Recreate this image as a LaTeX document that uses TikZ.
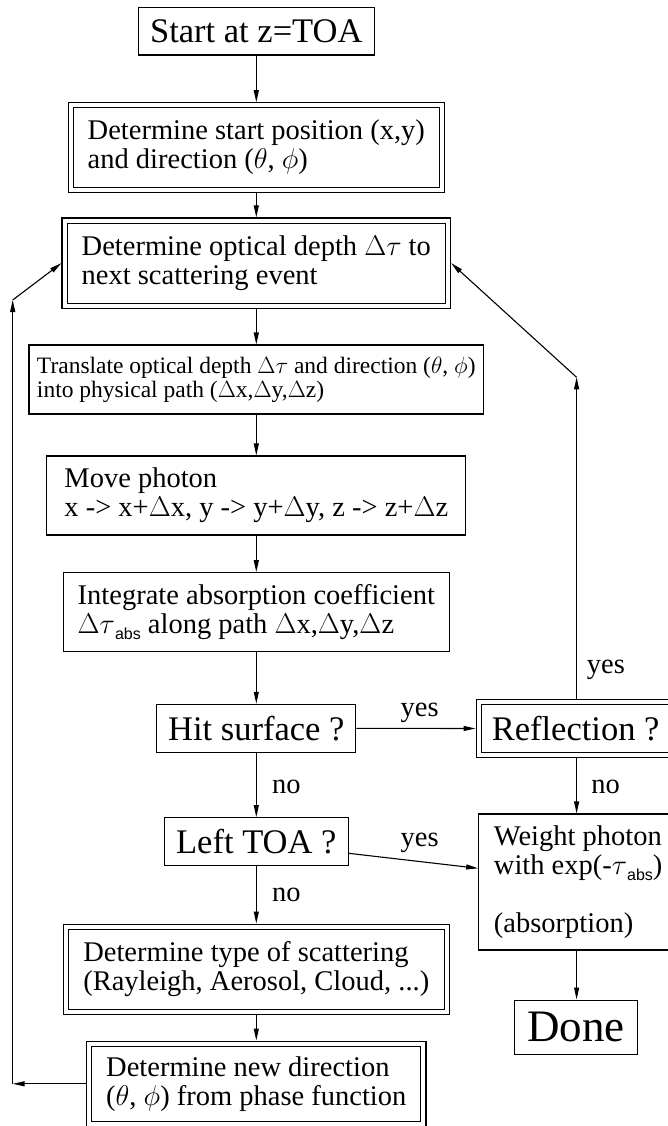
\RequirePackage{fix-cm}
\documentclass[tikz,border=0pt]{standalone}
\usepackage{fontspec}
\setmainfont{Liberation Serif}
\setsansfont{Liberation Sans}
\usetikzlibrary{arrows.meta,calc}

% type sizes used in the chart
\newcommand\fssmall{\fontsize{23.5}{24}\selectfont}
\newcommand\fsmid{\fontsize{28.5}{29}\selectfont}
\newcommand\fsbig{\fontsize{34.5}{36}\selectfont}
\newcommand\fshuge{\fontsize{45}{48}\selectfont}
% sans subscript "abs" of the absorption optical depth
\newcommand\subabs{\raisebox{-0.23em}{\fontsize{16}{16}\selectfont\sffamily abs}}

\begin{document}
\begin{tikzpicture}[x=1pt,y=-1pt,
  box/.style={draw, line width=1.1pt, inner sep=0pt, align=left, font=\fsmid},
  dbox/.style={box, double, double distance=4pt, outer sep=3.1pt},
  flow/.style={line width=1.1pt, -{Triangle[length=12pt,width=5pt]}},
  lbl/.style={font=\fsmid, inner sep=0pt, anchor=base west}]

\useasboundingbox (0,0) rectangle (668,1126);

% main column
\node[box, font=\fsbig, minimum width=235.6pt, minimum height=47.7pt] (start) at (256.3,31.2) {Start at z=TOA};
\node[dbox, minimum width=371.1pt, minimum height=84.6pt] (init) at (256.3,147.6)
  {Determine start position (x,y)\\and direction ($\theta$, $\phi$)};
\node[dbox, minimum width=383.5pt, minimum height=85.2pt] (depth) at (256.3,263.1)
  {Determine optical depth $\Delta\tau$ to\\next scattering event};
\node[box, font=\fssmall, minimum width=454.6pt, minimum height=69pt] (path) at (256.3,379.5)
  {Translate optical depth $\Delta\tau$ and direction ($\theta$, $\phi$)\\into physical path ($\Delta$x,$\Delta$y,$\Delta$z)};
\node[box, minimum width=418.8pt, minimum height=79pt] (move) at (256.3,495.5)
  {Move photon\\x -> x+$\Delta$x, y -> y+$\Delta$y, z -> z+$\Delta$z};
\node[box, minimum width=386.5pt, minimum height=79pt] (absorb) at (256.3,612.2)
  {Integrate absorption coefficient\\$\Delta\tau$\subabs{} along path $\Delta$x,$\Delta$y,$\Delta$z};
\node[box, font=\fsbig, minimum width=199pt, minimum height=48pt] (hit) at (256.3,728.3) {Hit surface ?};
\node[box, font=\fsbig, minimum width=183.6pt, minimum height=48pt] (toa) at (256.3,841.7) {Left TOA ?};
\node[dbox, minimum width=380.8pt, minimum height=85.4pt] (type) at (256.3,969.3)
  {Determine type of scattering\\(Rayleigh, Aerosol, Cloud, ...)};
\node[dbox, minimum width=334.3pt, minimum height=80.4pt] (newdir) at (256.3,1083.8)
  {Determine new direction\\($\theta$, $\phi$) from phase function};

% right column
\node[dbox, font=\fsbig, minimum width=193.9pt, minimum height=53.4pt] (refl) at (575.6,728.5) {Reflection ?};
\node[box, minimum width=199pt, minimum height=136pt] (weight) at (578.2,882)
  {Weight photon\\with exp(-$\tau$\subabs)\\[29pt](absorption)};
\node[box, font=\fshuge, minimum width=123pt, minimum height=54.3pt] (done) at (575.8,1027.2) {Done};

% turning points of the two return loops
\coordinate (lt) at (12.7,300);
\coordinate (rt) at (576.6,377.3);

% straight flow
\draw[flow] (start) -- (init);
\draw[flow] (init) -- (depth);
\draw[flow] (depth) -- (path);
\draw[flow] (path) -- (move);
\draw[flow] (move) -- (absorb);
\draw[flow] (absorb) -- (hit);
\draw[flow] (hit) -- (toa);
\draw[flow] (toa) -- (type);
\draw[flow] (type) -- (newdir);

% branches
\draw[flow] (hit.east) -- (refl.west);
\draw[flow] ([yshift=-11.6pt]toa.east) -- ([yshift=13.7pt]weight.west);
\draw[flow] (refl.south -| rt) -- (weight.north -| rt);
\draw[flow] (weight.south -| rt) -- (done.north -| rt);

% reflection loop back to the next scattering event
\draw[flow] (refl.north -| rt) -- (rt);
\draw[flow] (rt) -- (depth.east);

% scattering loop back to the next scattering event
\draw[flow] (newdir.west) -- (newdir.west -| lt);
\draw[flow] (newdir.west -| lt) -- (lt);
\draw[flow] (lt) -- (depth.west);

% branch labels
\node[lbl] (yes1) at (400.5,716.7) {yes};
\node[lbl] (no1) at (271.8,793.3) {no};
\node[lbl] (yes2) at (400.5,846.7) {yes};
\node[lbl] (no2) at (271.8,901.7) {no};
\node[lbl] (yes3) at (586.7,673.3) {yes};
\node[lbl] (no3) at (591.2,793.3) {no};

\end{tikzpicture}
\end{document}
